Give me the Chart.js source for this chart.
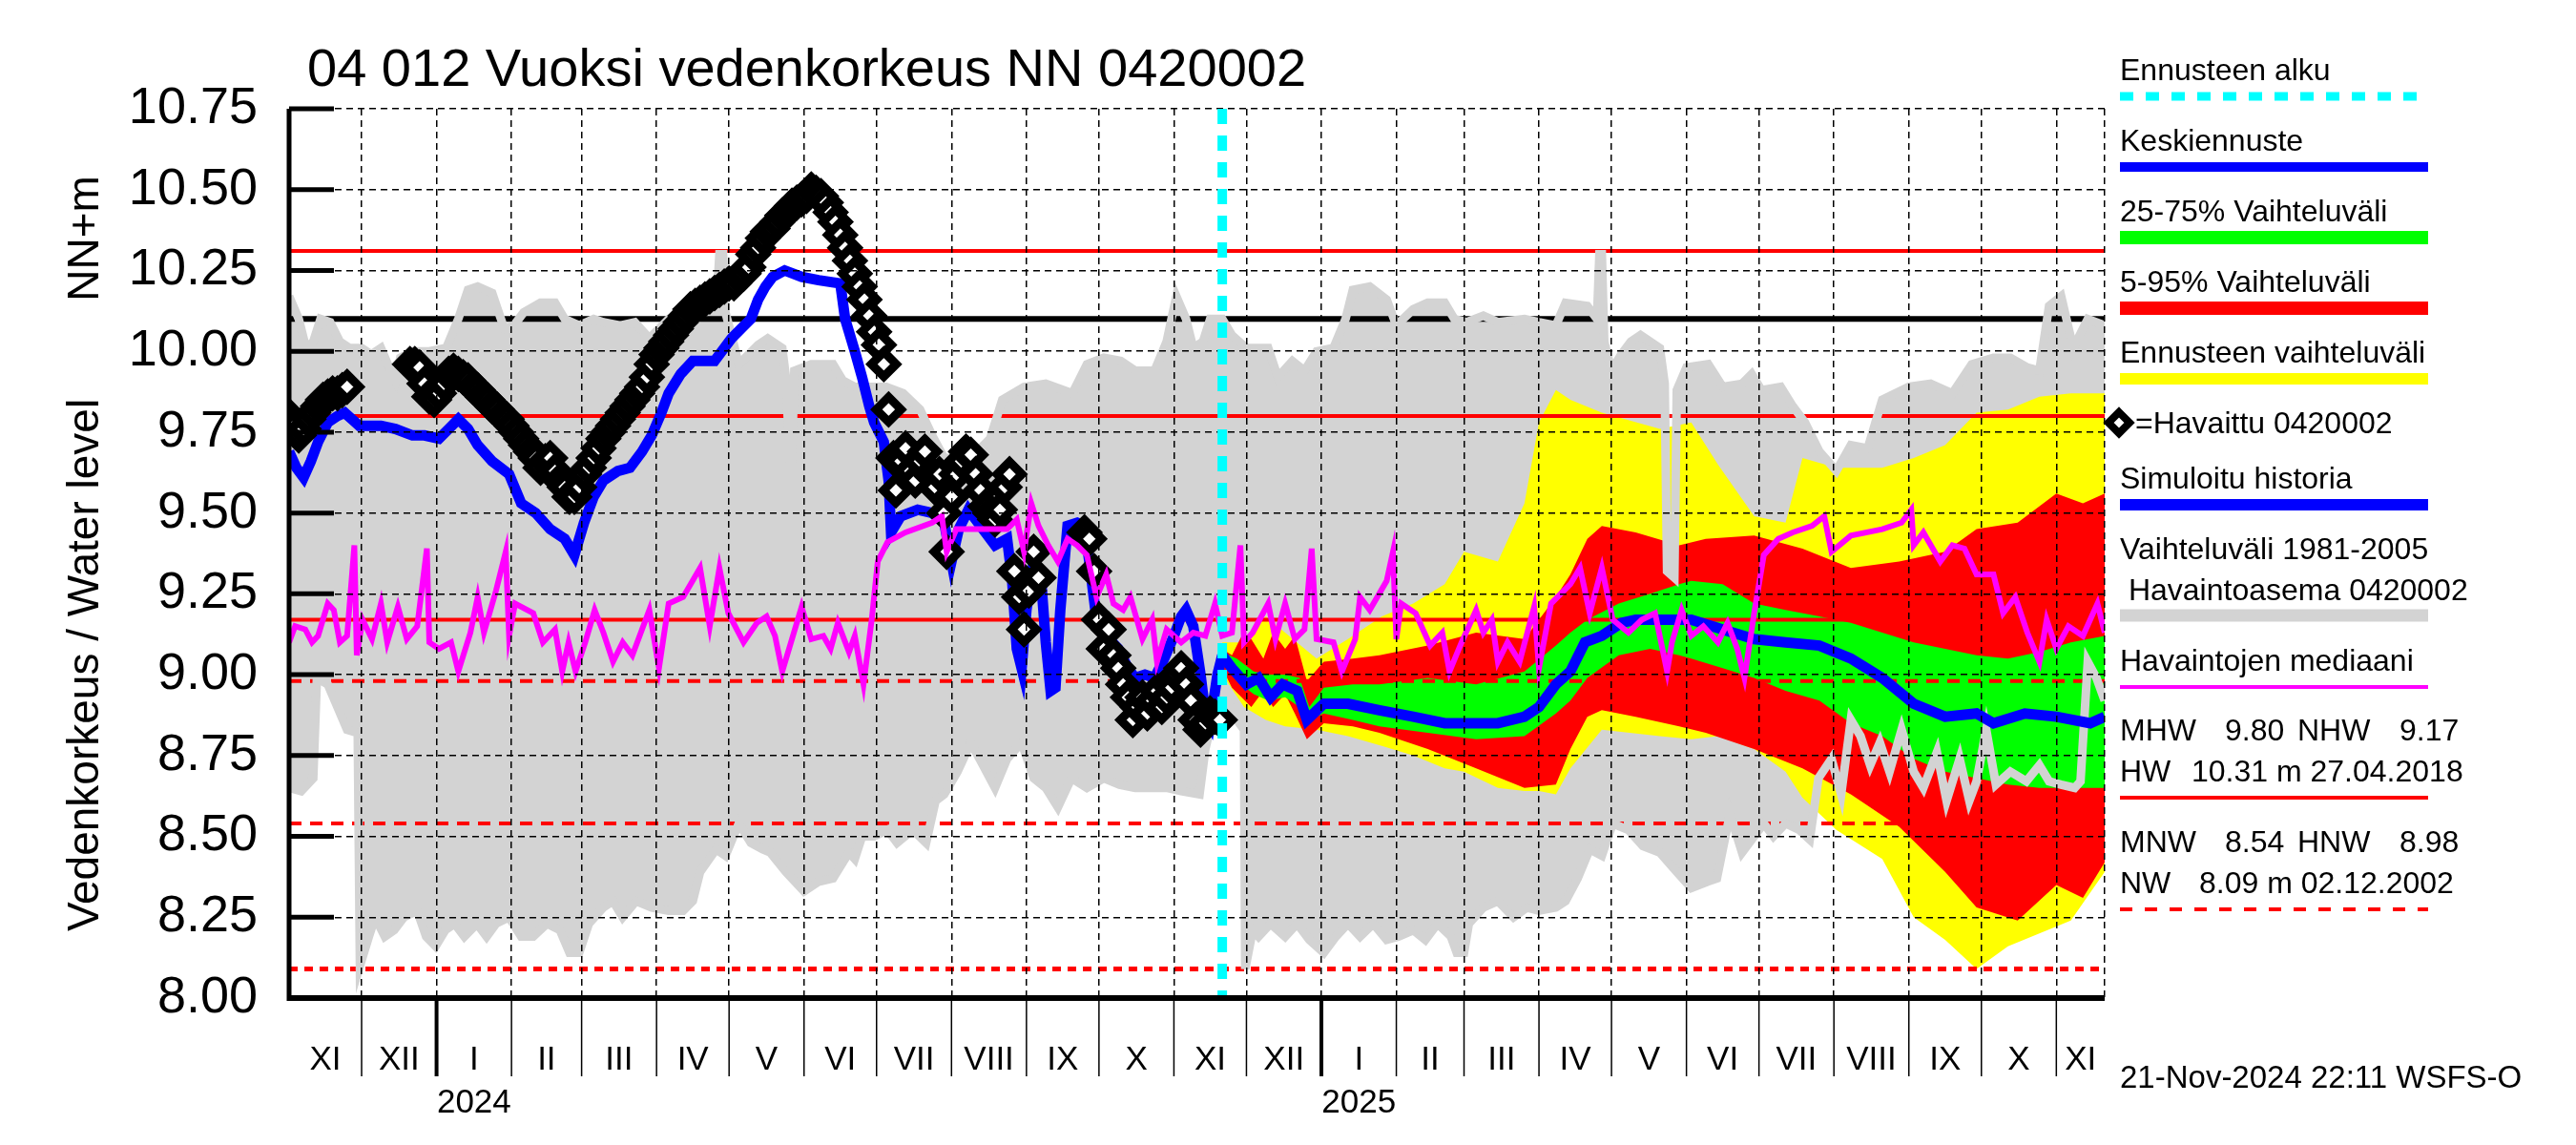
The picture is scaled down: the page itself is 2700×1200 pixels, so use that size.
<!DOCTYPE html>
<html>
<head>
<meta charset="utf-8">
<title>04 012 Vuoksi vedenkorkeus</title>
<script src="https://cdn.jsdelivr.net/npm/chart.js@4.4.1/dist/chart.umd.min.js"></script>
<style>
  html, body { margin: 0; padding: 0; background: #fff; }
  canvas { display: block; }
</style>
</head>
<body>
<canvas id="levelChart" width="2700" height="1200"></canvas>
<script>
'use strict';

/* Values. x = days since 1 Nov 2023 */

var dayMax = 751;            // 21 Nov 2025
var forecastStart = 386;     // 21 Nov 2024
var monthStarts = [30, 61, 92, 121, 152, 182, 213, 243, 274, 305, 335, 366,
                   396, 427, 458, 486, 517, 547, 578, 608, 639, 670, 700, 731];
var monthNames = ['XI', 'XII', 'I', 'II', 'III', 'IV', 'V', 'VI', 'VII', 'VIII', 'IX', 'X',
                  'XI', 'XII', 'I', 'II', 'III', 'IV', 'V', 'VI', 'VII', 'VIII', 'IX', 'X', 'XI'];
var yearStarts = [61, 427];
var yearNames = ['2024', '2025'];

var stats = { mhw: 9.80, nhw: 9.17, hw: 10.31, hwDate: '27.04.2018',
              mnw: 8.54, hnw: 8.98, nw: 8.09, nwDate: '02.12.2002' };
var regLevel = 10.10;

// Vaihteluväli 1981-2005 (upper / lower)
var grayUpper = [[0,10.17],[4,10.10],[7,10.01],[10,10.03],[13,10.10],[17,10.09],[21,10.03],[25,10.01],[30,10.01],[34,9.99],[38,10.01],[42,9.94],[44,9.91],[46,9.98],[51,10.00],[58,10.00],[65,10.01],[70,10.10],[74,10.19],[78,10.20],[84,10.18],[89,10.07],[93,10.08],[97,10.12],[104,10.15],[110,10.15],[114,10.10],[120,10.08],[126,10.10],[130,10.09],[137,10.08],[143,10.09],[149,10.04],[157,10.10],[167,10.14],[175,10.17],[177,10.17],[178,10.30],[179.5,10.30],[180.5,10.12],[183,10.05],[186,9.96],[190,9.99],[194,10.02],[198,10.04],[204,10.01],[205.5,9.92],[207,9.67],[208,9.67],[209,9.94],[216,9.96],[225,9.96],[229,9.91],[234,9.89],[241,9.89],[247,9.89],[254,9.87],[261,9.82],[266,9.74],[271,9.67],[282,9.67],[290,9.73],[295,9.85],[304,9.89],[313,9.90],[324,9.87],[330,9.96],[337,9.98],[344,9.97],[350,9.94],[358,9.94],[363,10.03],[367,10.17],[371,10.10],[374,10.01],[378,10.03],[381,10.10],[386,10.10],[390,10.05],[396,10.01],[405,10.01],[409,9.92],[415,9.97],[420,9.94],[425,10.00],[432,10.01],[437,10.10],[440,10.19],[447,10.20],[454,10.16],[458,10.08],[465,10.13],[471,10.15],[478,10.15],[482,10.10],[487,10.09],[494,10.11],[500,10.09],[511,10.10],[517,10.09],[524,10.08],[528,10.15],[537,10.14],[541,10.10],[542,10.30],[543,10.30],[544,10.03],[547,9.94],[551,9.99],[555,10.03],[559,10.05],[567,10.01],[569,9.90],[570,9.32],[573,9.30],[574,9.88],[578,9.95],[587,9.96],[593,9.89],[601,9.90],[605,9.93],[609,9.88],[617,9.89],[622,9.83],[627,9.78],[633,9.69],[640,9.63],[646,9.71],[653,9.70],[659,9.85],[670,9.89],[679,9.90],[688,9.87],[696,9.96],[705,9.98],[712,9.98],[719,9.95],[724,9.94],[728,10.14],[733,10.17],[738,10.01],[744,10.10],[751,10.08]];
var grayLower = [[0,8.65],[5,8.64],[10,8.68],[11.5,8.99],[16,8.97],[20,8.90],[24,8.83],[28.4,8.82],[29.3,8.10],[33,8.19],[35.6,8.25],[39.6,8.19],[43.5,8.21],[47.5,8.25],[53,8.27],[56.7,8.19],[60.6,8.16],[64.6,8.21],[68.5,8.23],[72.5,8.19],[77.7,8.23],[81.7,8.19],[85.6,8.23],[91,8.25],[96,8.19],[101,8.19],[106.7,8.23],[112,8.21],[116,8.14],[120,8.14],[124,8.23],[130,8.28],[134,8.30],[138,8.25],[143.5,8.30],[150,8.28],[157,8.27],[163,8.27],[167,8.30],[170,8.39],[176.6,8.46],[180.5,8.44],[186,8.54],[191,8.48],[196,8.46],[199,8.45],[205.5,8.39],[213,8.33],[219,8.36],[225,8.37],[231.6,8.45],[234,8.43],[237,8.50],[242,8.50],[247.5,8.52],[251.5,8.48],[258,8.52],[263.5,8.48],[267.4,8.61],[271,8.63],[276.5,8.70],[282,8.79],[287,8.72],[292,8.65],[297,8.74],[303,8.79],[308,8.68],[313,8.65],[318,8.59],[323.6,8.68],[330,8.65],[337,8.68],[343.5,8.66],[350,8.65],[358,8.65],[363,8.65],[369,8.64],[376.6,8.63],[379,8.77],[383,8.90],[388,8.92],[393,8.85],[395,8.83],[395.5,8.09],[398.6,8.21],[401,8.19],[406,8.23],[412,8.19],[417,8.23],[422,8.18],[428,8.14],[433,8.19],[438,8.23],[443,8.19],[448.5,8.23],[454,8.18],[459,8.19],[465,8.21],[470,8.18],[475,8.23],[480.6,8.19],[483,8.14],[486,8.14],[488,8.23],[494,8.28],[500,8.30],[506.5,8.25],[512,8.28],[517,8.27],[524,8.28],[528,8.30],[533,8.37],[538,8.46],[543,8.44],[547.5,8.54],[554,8.52],[560,8.47],[567,8.45],[574,8.39],[580,8.34],[586.7,8.36],[590.6,8.37],[596,8.57],[601,8.45],[606,8.50],[610,8.54],[614,8.50],[619,8.54],[624.6,8.52],[629,8.49],[632.6,8.68],[638,8.74],[642,8.63],[646,8.86],[650,8.81],[654,8.72],[658,8.79],[662,8.70],[667,8.83],[672,8.70],[676,8.65],[681.6,8.76],[685.6,8.61],[691,8.74],[695,8.61],[698,8.67],[702,8.83],[706,8.66],[712,8.70],[718.6,8.67],[724,8.72],[728,8.67],[733,8.66],[738.6,8.65],[741,8.67],[744,9.04],[747.6,8.99],[751,8.92]];

// Ennusteen vaihteluväli (upper / lower)
var yellowUpper = [[386,9.10],[395,9.10],[404,9.18],[412,9.13],[425,9.05],[438,9.11],[452,9.18],[465,9.22],[478,9.28],[486,9.38],[500,9.35],[511,9.53],[517,9.78],[524,9.88],[530,9.85],[543,9.81],[567,9.76],[580,9.78],[591,9.65],[606,9.49],[619,9.47],[626,9.67],[640,9.64],[659,9.64],[672,9.67],[685,9.71],[698,9.81],[711,9.82],[724,9.86],[737,9.87],[751,9.87]];
var yellowLower = [[386,9.00],[395,8.90],[404,8.86],[412,8.84],[425,8.83],[438,8.81],[452,8.78],[465,8.75],[478,8.71],[486,8.70],[500,8.65],[511,8.64],[517,8.64],[524,8.63],[530,8.71],[543,8.83],[567,8.81],[580,8.80],[591,8.81],[606,8.77],[619,8.70],[626,8.62],[640,8.52],[659,8.43],[672,8.25],[685,8.18],[698,8.09],[711,8.16],[724,8.20],[737,8.24],[751,8.39]];

// 5-95% Vaihteluväli (upper / lower)
var redUpper = [[386,9.08],[390,9.06],[394,9.12],[398,9.11],[403,9.05],[407,9.13],[412,9.08],[416,9.12],[421,8.98],[428,9.04],[440,9.05],[451,9.06],[471,9.09],[491,9.13],[511,9.11],[524,9.24],[530,9.31],[537,9.42],[543,9.46],[557,9.44],[575,9.40],[586,9.42],[606,9.43],[626,9.39],[646,9.33],[666,9.35],[685,9.38],[698,9.45],[715,9.47],[731,9.56],[742,9.53],[751,9.56]];
var redLower = [[386,9.02],[390,8.96],[394,8.93],[398,8.90],[403,8.95],[407,8.90],[412,8.94],[416,8.88],[421,8.80],[428,8.85],[440,8.84],[451,8.82],[471,8.77],[491,8.71],[511,8.65],[524,8.66],[530,8.77],[537,8.87],[543,8.89],[557,8.87],[575,8.84],[586,8.82],[606,8.77],[626,8.71],[646,8.63],[666,8.53],[685,8.39],[698,8.28],[715,8.24],[731,8.35],[742,8.31],[751,8.42]];

// 25-75% Vaihteluväli (upper / lower)
var greenUpper = [[386,9.07],[392,9.05],[399,9.01],[405,9.00],[412,9.00],[418,8.99],[422,8.90],[428,8.96],[440,8.97],[451,8.97],[471,8.99],[491,8.97],[511,9.01],[524,9.09],[530,9.13],[537,9.17],[550,9.22],[563,9.25],[575,9.28],[580,9.29],[593,9.28],[606,9.22],[619,9.20],[633,9.18],[646,9.16],[659,9.13],[672,9.10],[685,9.08],[698,9.06],[711,9.05],[724,9.07],[737,9.10],[751,9.12]];
var greenLower = [[386,9.04],[392,8.98],[399,8.94],[405,8.92],[412,8.93],[418,8.90],[422,8.86],[428,8.88],[440,8.86],[451,8.84],[471,8.82],[491,8.80],[511,8.81],[524,8.88],[530,8.92],[537,8.99],[550,9.06],[563,9.08],[575,9.06],[580,9.05],[593,9.02],[606,8.99],[619,8.95],[633,8.92],[646,8.85],[659,8.81],[672,8.74],[685,8.70],[698,8.68],[711,8.66],[724,8.65],[737,8.65],[751,8.65]];

// Keskiennuste
var forecastMean = [[386,9.06],[390,9.02],[396,8.97],[401,8.99],[406,8.93],[411,8.97],[417,8.95],[421,8.86],[428,8.91],[438,8.91],[451,8.89],[465,8.87],[478,8.85],[490,8.85],[500,8.85],[511,8.87],[517,8.90],[524,8.97],[530,9.01],[536,9.10],[543,9.12],[551,9.16],[557,9.17],[567,9.17],[580,9.17],[593,9.14],[606,9.11],[619,9.10],[633,9.09],[646,9.05],[659,8.99],[672,8.91],[685,8.87],[698,8.88],[705,8.85],[718,8.88],[731,8.87],[745,8.85],[751,8.87]];

// Simuloitu historia
var simulated = [[0,9.69],[3,9.64],[6,9.61],[9,9.66],[12,9.72],[16,9.78],[20,9.80],[23,9.81],[26,9.79],[29,9.77],[34,9.77],[38,9.77],[44,9.76],[51,9.74],[56,9.74],[62,9.73],[66,9.76],[70,9.79],[74,9.76],[78,9.71],[84,9.66],[91,9.62],[96,9.53],[102,9.50],[108,9.45],[114,9.42],[118,9.37],[122,9.47],[126,9.55],[130,9.60],[136,9.63],[141,9.64],[146,9.69],[150,9.74],[154,9.81],[157,9.87],[162,9.93],[167,9.97],[172,9.97],[176,9.97],[180,10.01],[183,10.04],[187,10.07],[191,10.10],[194,10.16],[197,10.20],[200,10.23],[205,10.25],[212,10.23],[219,10.22],[228,10.21],[230,10.10],[234,10.00],[237,9.92],[240,9.83],[242,9.78],[246,9.72],[248,9.60],[249,9.44],[253,9.49],[260,9.51],[266,9.50],[271,9.47],[274,9.35],[277,9.45],[281,9.51],[286,9.46],[292,9.40],[297,9.42],[299,9.30],[301,9.08],[303,9.02],[305,9.20],[308,9.35],[311,9.30],[313,9.10],[315,8.95],[317,8.96],[319,9.20],[322,9.46],[326,9.47],[329,9.46],[331,9.35],[334,9.17],[338,9.12],[343,9.08],[347,9.02],[350,8.99],[354,9.00],[358,8.99],[362,9.05],[366,9.12],[369,9.18],[371,9.20],[374,9.15],[377,9.00],[379,8.88],[381,8.85],[384,9.00],[386,9.06]];

// Havaintojen mediaani
var median = [[0,9.10],[2.5,9.15],[6.7,9.14],[9.5,9.10],[12,9.12],[16,9.22],[18.5,9.20],[21,9.10],[24,9.12],[27,9.40],[28,9.06],[30.4,9.17],[34.3,9.11],[38,9.22],[40.6,9.10],[45,9.21],[48.7,9.11],[53,9.15],[57,9.39],[58,9.10],[62,9.08],[67,9.10],[70,9.01],[75,9.13],[78,9.24],[80.6,9.13],[85.6,9.26],[89.6,9.38],[91,9.12],[93.5,9.22],[101,9.19],[105,9.10],[110,9.14],[113,9.01],[115.6,9.10],[118.5,9.01],[122.5,9.10],[126.4,9.20],[130,9.13],[134,9.04],[138,9.10],[142,9.06],[149,9.20],[153,9.02],[157,9.22],[163,9.24],[170,9.33],[174,9.15],[178,9.33],[181.7,9.19],[188,9.10],[193.5,9.16],[197.5,9.18],[201,9.12],[204,9.01],[208,9.11],[212,9.21],[216,9.11],[221,9.12],[224,9.08],[227,9.16],[231.6,9.07],[234,9.12],[237.6,8.97],[241,9.17],[243.5,9.35],[247.5,9.41],[255,9.44],[266,9.47],[270,9.49],[272,9.38],[276,9.45],[284,9.45],[297,9.45],[301,9.48],[304,9.38],[307,9.53],[310,9.46],[314,9.40],[318,9.35],[322,9.42],[326,9.40],[330,9.37],[334,9.24],[338,9.31],[341,9.22],[345,9.20],[348,9.24],[353,9.11],[357,9.17],[359,9.04],[363,9.14],[369,9.10],[374,9.13],[379,9.12],[383,9.22],[386,9.12],[390,9.13],[393.5,9.40],[395,9.10],[398.6,9.13],[405,9.22],[408,9.11],[412,9.22],[416,9.11],[420,9.14],[423,9.39],[425,9.11],[432,9.10],[435.5,9.01],[441,9.11],[443,9.24],[447,9.20],[454,9.29],[456.6,9.38],[458,9.11],[460,9.22],[466,9.19],[472,9.09],[477,9.13],[480,9.01],[485,9.10],[491,9.20],[494,9.13],[497.5,9.17],[500,9.04],[504,9.10],[509,9.04],[515,9.21],[517,9.02],[522,9.22],[530,9.28],[534,9.33],[538,9.19],[543,9.33],[547.5,9.17],[554,9.13],[559.5,9.17],[565,9.19],[570,9.01],[572,9.10],[576,9.20],[580,9.12],[585,9.15],[591,9.10],[595,9.16],[599,9.08],[602,8.99],[606,9.19],[610,9.37],[616,9.42],[622,9.44],[630,9.46],[635,9.49],[638,9.38],[646,9.43],[659,9.45],[667,9.47],[671,9.51],[672,9.40],[676,9.44],[683,9.35],[688,9.40],[693,9.39],[698,9.31],[705,9.31],[709,9.19],[714,9.24],[719,9.13],[724,9.04],[727,9.17],[731,9.08],[736,9.15],[742,9.12],[748,9.22],[751,9.13]];

// Havaittu 0420002
var observed = [[0,9.80],[2,9.77],[4,9.74],[6,9.76],[8,9.79],[10,9.81],[12,9.83],[14,9.85],[16,9.86],[18,9.87],[20,9.87],[22,9.88],[24,9.89],
  [50,9.96],[52,9.96],[54,9.95],[56,9.90],[58,9.86],[60,9.85],[62,9.87],[64,9.90],[66,9.93],[68,9.94],[70,9.93],[72,9.92],[74,9.91],[76,9.89],[78,9.88],[80,9.86],[82,9.85],[84,9.83],[86,9.82],[88,9.80],[90,9.79],[92,9.77],[94,9.75],[96,9.73],[98,9.71],[100,9.69],[102,9.67],[104,9.64],[106,9.66],[108,9.67],[110,9.63],[112,9.60],[114,9.58],[116,9.55],[118,9.55],[120,9.58],[122,9.62],[124,9.64],[126,9.67],[128,9.70],[130,9.73],[132,9.75],[134,9.77],[136,9.79],[138,9.81],[140,9.83],[142,9.85],[144,9.87],[146,9.89],[148,9.92],[150,9.96],[152,9.99],[154,10.01],[156,10.03],[158,10.05],[160,10.07],[162,10.09],[164,10.11],[166,10.13],[168,10.14],[170,10.15],[172,10.16],[174,10.17],[176,10.18],[178,10.19],[180,10.20],[182,10.21],[184,10.21],[186,10.23],[188,10.24],[190,10.26],[192,10.30],[194,10.32],[196,10.35],[198,10.37],[200,10.38],[202,10.40],[204,10.42],[206,10.43],[208,10.45],[210,10.46],[212,10.47],[214,10.48],[216,10.50],[218,10.49],[220,10.48],[222,10.46],[224,10.43],[226,10.40],[228,10.36],[230,10.32],[232,10.28],[234,10.24],[236,10.20],[238,10.16],[240,10.11],[242,10.06],[244,10.02],[246,9.96],[248,9.82],
  [250,9.67],[251,9.57],[253,9.66],[255,9.70],[257,9.63],[259,9.60],[261,9.66],[263,9.69],[265,9.62],[267,9.58],[269,9.62],[271,9.50],[272,9.38],[274,9.55],[276,9.62],[278,9.66],[280,9.69],[282,9.68],[284,9.62],[286,9.57],[288,9.52],[290,9.50],[292,9.48],[294,9.51],[296,9.58],[298,9.62],[300,9.32],[302,9.24],[304,9.14],[306,9.26],[308,9.38],[310,9.30],
  [329,9.44],[331,9.42],[333,9.32],[335,9.17],[337,9.08],[339,9.14],[341,9.06],[343,9.02],[345,8.97],[347,8.93],[349,8.86],[351,8.90],[353,8.93],[355,8.88],[357,8.92],[359,8.95],[361,8.90],[363,8.93],[365,8.96],[367,9.00],[369,9.02],[371,8.97],[373,8.92],[375,8.86],[377,8.83],[379,8.85],[381,8.88],[383,8.87],[385,8.86]];

/* Styles */

var FONT = '"Liberation Sans", Arial, Helvetica, sans-serif';
var GRAY = '#d3d3d3';
var BLUE = '#0000ff';
var GREEN = '#00ff00';
var RED = '#ff0000';
var YELLOW = '#ffff00';
var MAGENTA = '#ff00ff';
var CYAN = '#00ffff';
var NONE = 'rgba(0,0,0,0)';

function pts(pairs) {
  return pairs.map(function(p) { return {x: p[0], y: p[1]}; });
}

function band(data, color, order, fillNext) {
  return {
    data: pts(data),
    borderColor: NONE,
    borderWidth: 0,
    backgroundColor: color,
    fill: fillNext ? '+1' : false,
    pointRadius: 0,
    order: order
  };
}

function hline(ctx, x0, x1, y) {
  ctx.beginPath();
  ctx.moveTo(x0, y);
  ctx.lineTo(x1, y);
  ctx.stroke();
}

function vline(ctx, x, y0, y1) {
  ctx.beginPath();
  ctx.moveTo(x, y0);
  ctx.lineTo(x, y1);
  ctx.stroke();
}

function diamond(ctx, x, y, r) {
  ctx.beginPath();
  ctx.moveTo(x, y - r);
  ctx.lineTo(x + r, y);
  ctx.lineTo(x, y + r);
  ctx.lineTo(x - r, y);
  ctx.closePath();
  ctx.fillStyle = '#fff';
  ctx.fill();
  ctx.stroke();
}

var decorations = {
  id: 'decorations',

  // reference levels: above the filled bands, below the curves
  beforeDatasetsDraw: function(chart) {
    var ctx = chart.ctx, a = chart.chartArea, ys = chart.scales.y;
    ctx.save();
    ctx.beginPath();
    ctx.rect(a.left, a.top, a.right - a.left, a.bottom - a.top);
    ctx.clip();

    ctx.strokeStyle = RED;
    ctx.lineWidth = 4;
    [stats.hw, stats.mhw, stats.nhw].forEach(function(v) {
      hline(ctx, a.left, a.right, ys.getPixelForValue(v));
    });
    ctx.setLineDash([13, 9]);
    [stats.hnw, stats.mnw].forEach(function(v) {
      hline(ctx, a.left, a.right, ys.getPixelForValue(v));
    });
    ctx.setLineDash([9, 7]);
    ctx.lineWidth = 5;
    hline(ctx, a.left, a.right, ys.getPixelForValue(stats.nw));
    ctx.setLineDash([]);

    ctx.strokeStyle = '#000';
    ctx.lineWidth = 6;
    hline(ctx, a.left, a.right, ys.getPixelForValue(regLevel));
    ctx.restore();
  },

  afterDraw: function(chart) {
    var ctx = chart.ctx, a = chart.chartArea;
    var xs = chart.scales.x, ys = chart.scales.y;
    ctx.save();

    // forecast start
    var fx = xs.getPixelForValue(forecastStart);
    ctx.strokeStyle = CYAN;
    ctx.lineWidth = 10;
    ctx.setLineDash([16, 12]);
    vline(ctx, fx, a.top, a.bottom);
    ctx.setLineDash([]);

    // axes
    ctx.strokeStyle = '#000';
    ctx.lineWidth = 5;
    vline(ctx, a.left, a.top, a.bottom + 3);
    ctx.lineWidth = 6;
    hline(ctx, a.left - 2, a.right, a.bottom);

    ctx.lineWidth = 5;
    ys.ticks.forEach(function(t) {
      var py = ys.getPixelForValue(t.value);
      hline(ctx, a.left, a.left + 47, py);
    });

    monthStarts.forEach(function(d) {
      var px = xs.getPixelForValue(d);
      ctx.lineWidth = yearStarts.indexOf(d) >= 0 ? 4 : 1.5;
      vline(ctx, px, a.bottom, a.bottom + 82);
    });

    // month and year labels
    ctx.fillStyle = '#000';
    ctx.textAlign = 'center';
    ctx.textBaseline = 'alphabetic';
    ctx.font = '35px ' + FONT;
    var edges = [0].concat(monthStarts, [dayMax]);
    monthNames.forEach(function(name, i) {
      var px = xs.getPixelForValue((edges[i] + edges[i + 1]) / 2);
      ctx.fillText(name, px, 1121);
    });
    yearStarts.forEach(function(d, i) {
      var k = monthStarts.indexOf(d);
      var px = xs.getPixelForValue((d + monthStarts[k + 1]) / 2);
      ctx.fillText(yearNames[i], px, 1166);
    });

    // title
    ctx.textAlign = 'left';
    ctx.font = '56px ' + FONT;
    ctx.fillText('04 012 Vuoksi vedenkorkeus NN 0420002', 322, 90);

    // axis titles
    ctx.font = '46px ' + FONT;
    ctx.save();
    ctx.translate(103, 697);
    ctx.rotate(-Math.PI / 2);
    ctx.textAlign = 'center';
    ctx.fillText('Vedenkorkeus / Water level', 0, 0);
    ctx.restore();
    ctx.save();
    ctx.translate(103, 250);
    ctx.rotate(-Math.PI / 2);
    ctx.textAlign = 'center';
    ctx.fillText('NN+m', 0, 0);
    ctx.restore();

    // legend
    var lx0 = 2222, lx1 = 2545;
    ctx.font = '32px ' + FONT;
    ctx.textAlign = 'left';
    var rows = [
      {text: 'Ennusteen alku', base: 84, y: 101, color: CYAN, width: 9, dash: [14, 13]},
      {text: 'Keskiennuste', base: 158, y: 175, color: BLUE, width: 10},
      {text: '25-75% Vaihteluväli', base: 232, y: 249, color: GREEN, width: 14},
      {text: '5-95% Vaihteluväli', base: 306, y: 323, color: RED, width: 14},
      {text: 'Ennusteen vaihteluväli', base: 380, y: 397, color: YELLOW, width: 12},
      {text: 'Simuloitu historia', base: 512, y: 529, color: BLUE, width: 12},
      {text: 'Vaihteluväli 1981-2005', base: 586},
      {text: ' Havaintoasema 0420002', base: 629, y: 645, color: GRAY, width: 13},
      {text: 'Havaintojen mediaani', base: 703, y: 720, color: MAGENTA, width: 4}
    ];
    rows.forEach(function(r) {
      ctx.fillStyle = '#000';
      ctx.fillText(r.text, lx0, r.base);
      if (r.color) {
        ctx.strokeStyle = r.color;
        ctx.lineWidth = r.width;
        ctx.setLineDash(r.dash || []);
        hline(ctx, lx0, lx1, r.y);
        ctx.setLineDash([]);
      }
    });

    ctx.strokeStyle = '#000';
    ctx.lineWidth = 8;
    diamond(ctx, 2221, 443, 11);
    ctx.fillStyle = '#000';
    ctx.fillText('=Havaittu 0420002', 2238, 454);

    ctx.fillText('MHW', lx0, 776);
    ctx.fillText(stats.mhw.toFixed(2), 2332, 776);
    ctx.fillText('NHW', 2408, 776);
    ctx.fillText(stats.nhw.toFixed(2), 2515, 776);
    ctx.fillText('HW', lx0, 819);
    ctx.fillText(stats.hw.toFixed(2) + ' m ' + stats.hwDate, 2297, 819);
    ctx.strokeStyle = RED;
    ctx.lineWidth = 4;
    hline(ctx, lx0, lx1, 836);

    ctx.fillText('MNW', lx0, 893);
    ctx.fillText(stats.mnw.toFixed(2), 2332, 893);
    ctx.fillText('HNW', 2408, 893);
    ctx.fillText(stats.hnw.toFixed(2), 2515, 893);
    ctx.fillText('NW', lx0, 936);
    ctx.fillText(stats.nw.toFixed(2) + ' m ' + stats.nwDate, 2305, 936);
    ctx.setLineDash([13, 13]);
    hline(ctx, lx0, lx1, 953);
    ctx.setLineDash([]);

    ctx.font = '33px ' + FONT;
    ctx.fillText('21-Nov-2024 22:11 WSFS-O', lx0, 1140);

    ctx.restore();
  }
};

var gridOpts = { color: '#000', lineWidth: 1.5, drawTicks: false, z: 1 };
var borderOpts = { display: false, dash: [7, 5] };

var ctx = document.getElementById('levelChart').getContext('2d');
var levelChart = new Chart(ctx, {
  type: 'line',
  data: {
    datasets: [
      {
        label: 'Vaihteluväli 1981-2005',
        data: pts(grayUpper), borderColor: GRAY, borderWidth: 9,
        backgroundColor: GRAY, fill: '+1', pointRadius: 0, order: 20
      },
      {
        label: 'Vaihteluväli alaraja',
        data: pts(grayLower), borderColor: GRAY, borderWidth: 9,
        fill: false, pointRadius: 0, order: 19
      },
      band(yellowUpper, YELLOW, 18, true),
      band(yellowLower, YELLOW, 17, false),
      band(redUpper, RED, 16, true),
      band(redLower, RED, 15, false),
      band(greenUpper, GREEN, 14, true),
      band(greenLower, GREEN, 13, false),
      {
        label: 'Keskiennuste',
        data: pts(forecastMean), borderColor: BLUE, borderWidth: 11,
        fill: false, pointRadius: 0, order: 3
      },
      {
        label: 'Simuloitu historia',
        data: pts(simulated), borderColor: BLUE, borderWidth: 11,
        fill: false, pointRadius: 0, order: 3
      },
      {
        label: 'Havaittu 0420002',
        data: pts(observed), showLine: false, fill: false,
        pointStyle: 'rectRot', pointRadius: 13, pointBorderWidth: 9,
        pointBorderColor: '#000', pointBackgroundColor: '#fff', order: 2
      },
      {
        label: 'Havaintojen mediaani',
        data: pts(median), borderColor: MAGENTA, borderWidth: 6,
        fill: false, pointRadius: 0, order: 1
      }
    ]
  },
  options: {
    responsive: false,
    animation: false,
    devicePixelRatio: 1,
    events: [],
    layout: { padding: { left: 0, top: 114, right: 494, bottom: 154 } },
    elements: { line: { tension: 0 } },
    plugins: {
      legend: { display: false },
      tooltip: { enabled: false },
      filler: { drawTime: 'beforeDatasetsDraw' }
    },
    scales: {
      x: {
        type: 'linear', min: 0, max: dayMax,
        afterBuildTicks: function(axis) {
          axis.ticks = monthStarts.concat([dayMax]).map(function(v) { return {value: v}; });
        },
        afterFit: function(axis) { axis.height = 0; },
        ticks: { display: false },
        grid: gridOpts,
        border: borderOpts
      },
      y: {
        type: 'linear', min: 8, max: 10.75,
        afterFit: function(axis) { axis.width = 303; },
        ticks: {
          stepSize: 0.25, padding: 33, color: '#000',
          font: { family: FONT, size: 54 },
          callback: function(v) { return v.toFixed(2); }
        },
        grid: gridOpts,
        border: borderOpts
      }
    }
  },
  plugins: [decorations]
});
</script>
</body>
</html>
